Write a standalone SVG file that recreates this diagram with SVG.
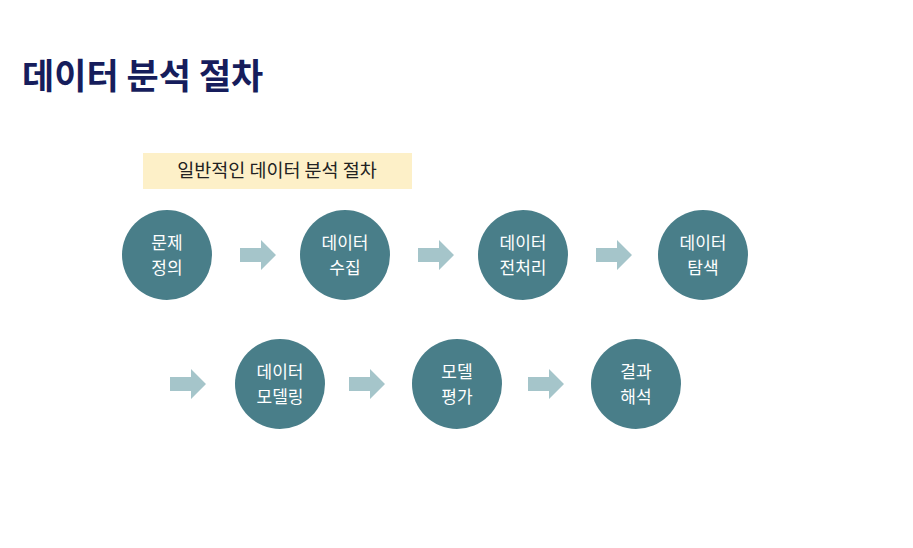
<svg xmlns="http://www.w3.org/2000/svg" width="913" height="548" viewBox="0 0 913 548">
<defs><style>
.c{fill:#497e89}
.a{fill:#a5c5ca}
.t{fill:#fff;font-family:"Noto Sans CJK KR",sans-serif;font-size:17px;text-anchor:middle}
</style>
<path id="ar" class="a" d="M0,-7 H21 V-15 L36,0 L21,15 V7 H0 Z"/>
</defs>
<rect width="913" height="548" fill="#fff"/>
<text x="22" y="89" font-family="Noto Sans CJK KR,sans-serif" font-weight="bold" font-size="35" fill="#161d5c">데이터 분석 절차</text>
<g id="label"><rect x="143" y="153" width="269" height="36" fill="#fdf0c8"/>
<text x="277" y="177" font-family="Noto Sans CJK KR,sans-serif" font-size="18.5" text-anchor="middle" fill="#222">일반적인 데이터 분석 절차</text></g>
<g id="connectors">
<use href="#ar" x="240" y="255"/><use href="#ar" x="418" y="255"/><use href="#ar" x="596" y="255"/>
<use href="#ar" x="170" y="384"/><use href="#ar" x="349" y="384"/><use href="#ar" x="528" y="384"/>
</g>
<g id="n1"><circle class="c" cx="167" cy="255" r="45"/><text class="t" x="167" y="249">문제</text><text class="t" x="167" y="274">정의</text></g>
<g id="n2"><circle class="c" cx="345" cy="255" r="45"/><text class="t" x="345" y="249">데이터</text><text class="t" x="345" y="274">수집</text></g>
<g id="n3"><circle class="c" cx="523" cy="255" r="45"/><text class="t" x="523" y="249">데이터</text><text class="t" x="523" y="274">전처리</text></g>
<g id="n4"><circle class="c" cx="703" cy="255" r="45"/><text class="t" x="703" y="249">데이터</text><text class="t" x="703" y="274">탐색</text></g>
<g id="n5"><circle class="c" cx="280" cy="384" r="45"/><text class="t" x="280" y="378">데이터</text><text class="t" x="280" y="403">모델링</text></g>
<g id="n6"><circle class="c" cx="457" cy="384" r="45"/><text class="t" x="457" y="378">모델</text><text class="t" x="457" y="403">평가</text></g>
<g id="n7"><circle class="c" cx="636" cy="384" r="45"/><text class="t" x="636" y="378">결과</text><text class="t" x="636" y="403">해석</text></g>
</svg>
